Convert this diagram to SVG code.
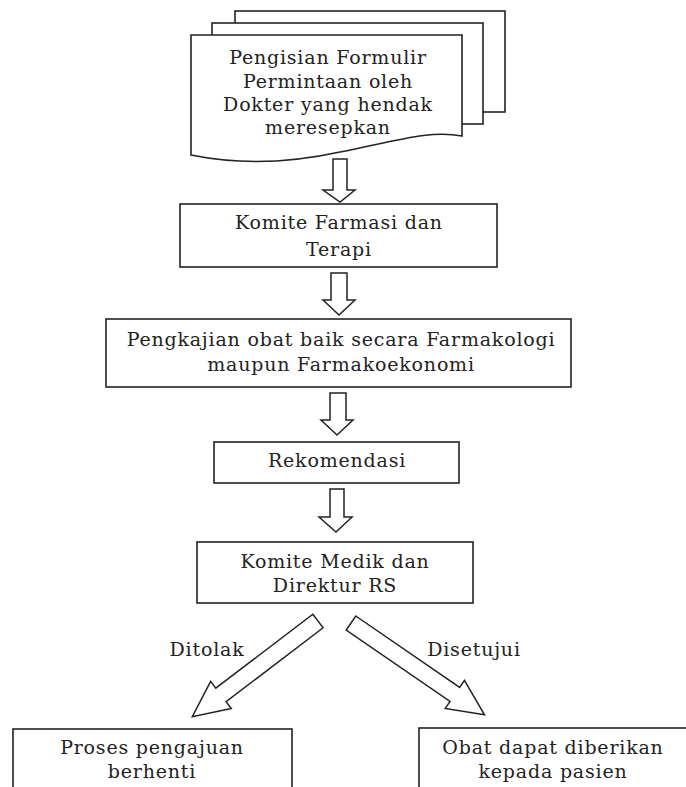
<svg xmlns="http://www.w3.org/2000/svg" width="686" height="787" viewBox="0 0 686 787">
<style>
.box{fill:#fff;stroke:#222;stroke-width:1.6}
.arr{fill:#fff;stroke:#222;stroke-width:1.5;stroke-linejoin:miter}
text{font-family:"DejaVu Serif","Liberation Serif",serif;font-size:19px;letter-spacing:0.8px;fill:#222;text-anchor:middle}
</style>
<rect width="686" height="787" fill="#fff"/>
<g id="n1">
<rect class="box" x="235" y="11" width="270" height="101"/>
<rect class="box" x="212" y="23" width="271" height="101"/>
<path class="box" d="M191,35 H462 V136 C430,130 400,140 340,152 C290,163 240,165 191,155 Z"/>
<text x="328" y="64">Pengisian Formulir</text>
<text x="328" y="88">Permintaan oleh</text>
<text x="328" y="111">Dokter yang hendak</text>
<text x="328" y="134">meresepkan</text>
</g>
<g id="n2">
<rect class="box" x="180" y="204" width="317" height="63"/>
<text x="339" y="229">Komite Farmasi dan</text>
<text x="339" y="256">Terapi</text>
</g>
<g id="n3">
<rect class="box" x="106" y="319" width="465" height="68"/>
<text x="341" y="346">Pengkajian obat baik secara Farmakologi</text>
<text x="341" y="371">maupun Farmakoekonomi</text>
</g>
<g id="n4">
<rect class="box" x="214" y="442" width="245" height="41"/>
<text x="337" y="467">Rekomendasi</text>
</g>
<g id="n5">
<rect class="box" x="197" y="542" width="276" height="61"/>
<text x="335" y="568">Komite Medik dan</text>
<text x="335" y="592">Direktur RS</text>
</g>
<g id="n6">
<rect class="box" x="13" y="729" width="279" height="80"/>
<text x="152" y="754">Proses pengajuan</text>
<text x="152" y="778">berhenti</text>
</g>
<g id="n7">
<rect class="box" x="419" y="728" width="280" height="80"/>
<text x="553" y="754">Obat dapat diberikan</text>
<text x="553" y="778">kepada pasien</text>
</g>
<g id="connectors">
<path class="arr" d="M333,159 H347 V190 H355 L340,202 L323,190 H333 Z"/>
<path class="arr" d="M331,273 H347 V300 H355 L339,315 L323,300 H331 Z"/>
<path class="arr" d="M330,393 H346 V420 H353 L337,435 L321,420 H330 Z"/>
<path class="arr" d="M330,489 H344 V517 H352 L336,532 L319,517 H330 Z"/>
<path class="arr" transform="translate(318,621) rotate(142.7)" d="M0,-8.5 H122 V-17 L158,0 L122,17 V8.5 H0 Z"/>
<path class="arr" transform="translate(351,623) rotate(34.5)" d="M0,-8.5 H126 V-17 L162,0 L126,17 V8.5 H0 Z"/>
<text x="207" y="656">Ditolak</text>
<text x="474" y="656">Disetujui</text>
</g>
</svg>
